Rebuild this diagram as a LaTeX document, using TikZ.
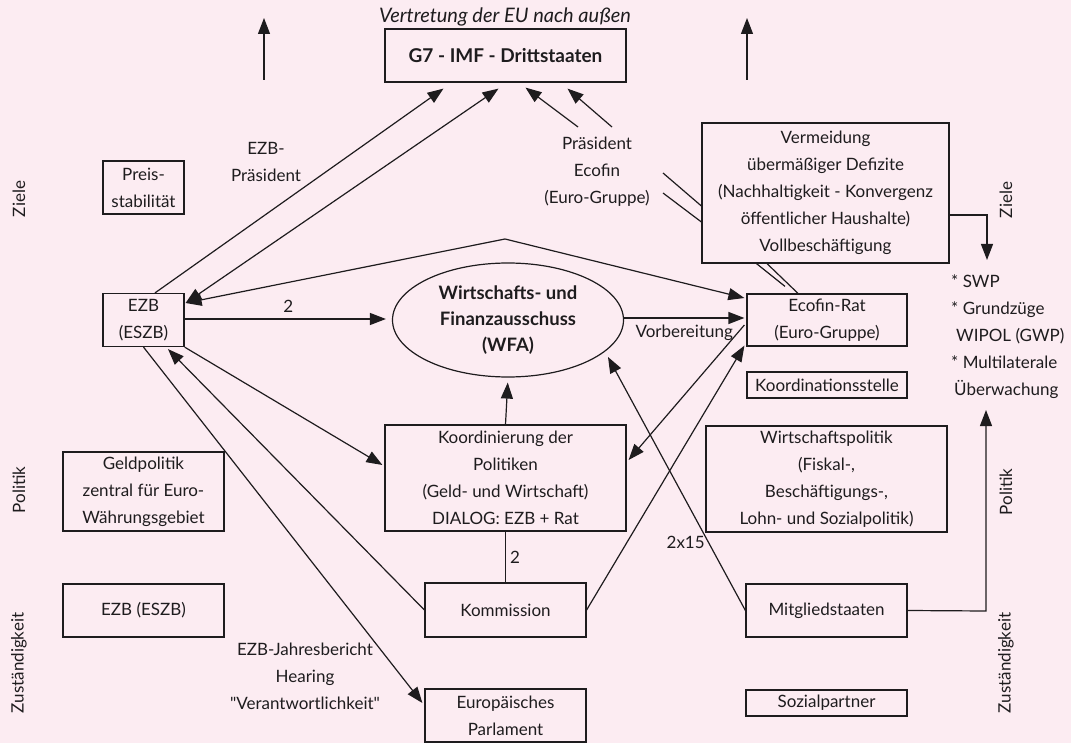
\documentclass[tikz,border=0pt]{standalone}
\usepackage{fontspec}
\setmainfont{Lato}
\usetikzlibrary{arrows.meta,shapes.geometric}
\definecolor{bgpink}{RGB}{252,236,242}
\definecolor{ink}{RGB}{30,28,30}
\begin{document}
\begin{tikzpicture}[x=1pt,y=-1pt,
  font=\fontsize{17}{27}\selectfont,
  every node/.style={text=ink},
  box/.style={draw=ink, line width=1.2pt, inner sep=0pt, align=center},
  conn/.style={draw=ink, line width=1.2pt},
  arr/.style={conn, -{Triangle[length=16pt,width=12pt]}},
  darr/.style={conn, {Triangle[length=16pt,width=12pt]}-{Triangle[length=16pt,width=12pt]}},
  lbl/.style={inner sep=0pt, align=center},
  side/.style={inner sep=0pt, rotate=90},
]
\fill[bgpink] (0,0) rectangle (1071,743);
\useasboundingbox (0,0) rectangle (1071,743);

% title
\node[lbl, font=\fontsize{20}{27}\selectfont\itshape] (title) at (505,17) {Vertretung der EU nach außen};

% boxes
\node[box, minimum width=241pt, minimum height=53pt, font=\fontsize{19}{27}\selectfont\bfseries] (g7) at (505.5,55.5) {G7 - IMF - Drittstaaten};
\node[box, minimum width=81pt, minimum height=53pt] (preis) at (143.5,187.5) {Preis-\\stabilität};
\node[box, minimum width=81pt, minimum height=53pt] (ezb) at (143.5,320) {EZB\\(ESZB)};
\node[box, minimum width=247pt, minimum height=140pt] (verm) at (825.5,193) {Vermeidung\\übermäßiger Defizite\\(Nachhaltigkeit - Konvergenz\\öffentlicher Haushalte)\\Vollbeschäftigung};
\node[box, minimum width=160pt, minimum height=52pt] (ecofin) at (827,320) {Ecofin-Rat\\(Euro-Gruppe)};
\node[box, minimum width=160pt, minimum height=26pt] (koordst) at (827,385) {Koordinationsstelle};
\node[box, minimum width=241pt, minimum height=106pt] (koord) at (505.5,478) {Koordinierung der\\Politiken\\(Geld- und Wirtschaft)\\DIALOG: EZB + Rat};
\node[box, minimum width=241pt, minimum height=106pt] (wirtpol) at (826.5,479) {Wirtschaftspolitik\\(Fiskal-,\\Beschäftigungs-,\\Lohn- und Sozialpolitik)};
\node[box, minimum width=161pt, minimum height=79pt] (geld) at (143.5,491.5) {Geldpolitik\\zentral für Euro-\\Währungsgebiet};
\node[box, minimum width=161pt, minimum height=53pt] (ezb2) at (143.5,610.5) {EZB (ESZB)};
\node[box, minimum width=161pt, minimum height=54pt] (komm) at (505.5,610) {Kommission};
\node[box, minimum width=161pt, minimum height=53pt] (mitgl) at (826.5,610.5) {Mitgliedstaaten};
\node[box, minimum width=161pt, minimum height=53pt] (parl) at (505.5,715.5) {Europäisches\\Parlament};
\node[box, minimum width=161pt, minimum height=26pt] (sozial) at (826.5,703) {Sozialpartner};
\node[draw=ink, line width=1.2pt, ellipse, minimum width=231pt, minimum height=114pt, inner sep=0pt, align=center, font=\fontsize{18.5}{26}\selectfont\bfseries] (wfa) at (508,320) {Wirtschafts- und\\Finanzausschuss\\(WFA)};

% free labels
\node[lbl] (ezbpres) at (266,161.5) {EZB-\\Präsident};
\node[lbl] (pres) at (597,172) {Präsident\\Ecofin\\(Euro-Gruppe)};
\node[lbl] (jb) at (305,676) {EZB-Jahresbericht\\Hearing\\\textquotedbl Verantwortlichkeit\textquotedbl};
\node[lbl, anchor=north west, align=left] (list) at (951,274) {* SWP\\* Grundzüge\\\hspace*{5pt}WIPOL (GWP)\\* Multilaterale\\\hspace*{3pt}Überwachung};

% side labels
\node[side] (zl) at (19,199) {Ziele};
\node[side] (pl) at (19,490) {Politik};
\node[side] (zul) at (19,663) {Zuständigkeit};
\node[side] (zr) at (1006,200) {Ziele};
\node[side] (pr) at (1006,492) {Politik};
\node[side] (zur) at (1006,663) {Zuständigkeit};

% free coordinates
\coordinate (upL0) at (264,80);
\coordinate (upL1) at (264,18);
\coordinate (upR0) at (747,80);
\coordinate (upR1) at (747,18);
\coordinate (apex) at (505,239);
\coordinate (p1) at (578,127);
\coordinate (p2) at (612,127);
\coordinate (q1) at (663,173);
\coordinate (q2) at (663,193);
\coordinate (zturn) at (987,215);
\coordinate (pturn) at (986,611);

% vertical arrows at top
\draw[arr] (upL0) -- (upL1);
\draw[arr] (upR0) -- (upR1);

% EZB <-> G7
\draw[arr] ([xshift=11.5pt]ezb.north) -- ([xshift=-62pt,yshift=-6pt]g7.south);
\draw[darr] ([xshift=1pt,yshift=17pt]ezb.east) -- ([xshift=-7pt,yshift=-6pt]g7.south);
% Praesident Ecofin -> G7
\draw[arr] (p1) -- ([xshift=20pt,yshift=-5pt]g7.south);
\draw[arr] (p2) -- ([xshift=62pt,yshift=-6pt]g7.south);
% double lines Praesident -- Vermeidung
\draw[conn] (q1) -- ([yshift=-13pt]verm.west);
\draw[conn] (q2) -- ([yshift=-29pt]verm.west);
% double lines Vermeidung -- Ecofin
\draw[conn] ([xshift=-69pt]verm.south) -- ([xshift=-42pt,yshift=7pt]ecofin.north);
\draw[conn] ([xshift=-58.5pt]verm.south) -- ([xshift=-29pt]ecofin.north);

% roof line EZB <-> Ecofin
\draw[darr] ([xshift=1pt,yshift=17pt]ezb.east) -- (apex) -- ([xshift=-2pt,yshift=22pt]ecofin.west);

% EZB -> WFA
\draw[arr, shorten >=6pt] ([yshift=1pt]ezb.east) -- node[lbl, above=6pt] (two1) {2} ([yshift=1pt]wfa.west);
% WFA -> Ecofin
\draw[arr] ([yshift=2pt]wfa.east) -- node[lbl, below=6pt] (vorb) {Vorbereitung} ([xshift=-2pt,yshift=2pt]ecofin.west);
% Koordinierung -> WFA
\draw[arr, shorten >=5pt] (koord.north) -- (wfa.south);
% Mitgliedstaaten -> WFA
\draw[arr] (mitgl.west) -- node[lbl, pos=0.27, left=3pt] (twox) {2x15} (608,357);
% Ecofin -> Koordinierung
\draw[arr] ([xshift=-2pt,yshift=-5pt]ecofin.west) -- ([xshift=2pt,yshift=18pt]koord.east);
% Kommission -> Ecofin
\draw[arr] (komm.east) -- ([xshift=-2pt,yshift=1pt]ecofin.south west);
% Koordinierung -- Kommission
\draw[conn] (koord.south) -- node[lbl, right=4pt] (two2) {2} (komm.north);
% EZB -> Parlament
\draw[arr] (ezb.south) -- ([xshift=-2pt,yshift=12.5pt]parl.west);
% Kommission -> EZB
\draw[arr] (komm.west) -- ([xshift=24.5pt,yshift=-2pt]ezb.south);
% EZB -> Koordinierung
\draw[arr] (ezb.south east) -- ([xshift=-2pt,yshift=13pt]koord.west);

% Vermeidung -> Ziele list
\draw[arr] ([yshift=-22pt]verm.east) -- (zturn) -- ([yshift=-45pt]zturn);
% Mitgliedstaaten -> Politik
\draw[arr] (mitgl.east) -- (pturn) -- ([yshift=201pt]pturn);

\end{tikzpicture}
\end{document}
